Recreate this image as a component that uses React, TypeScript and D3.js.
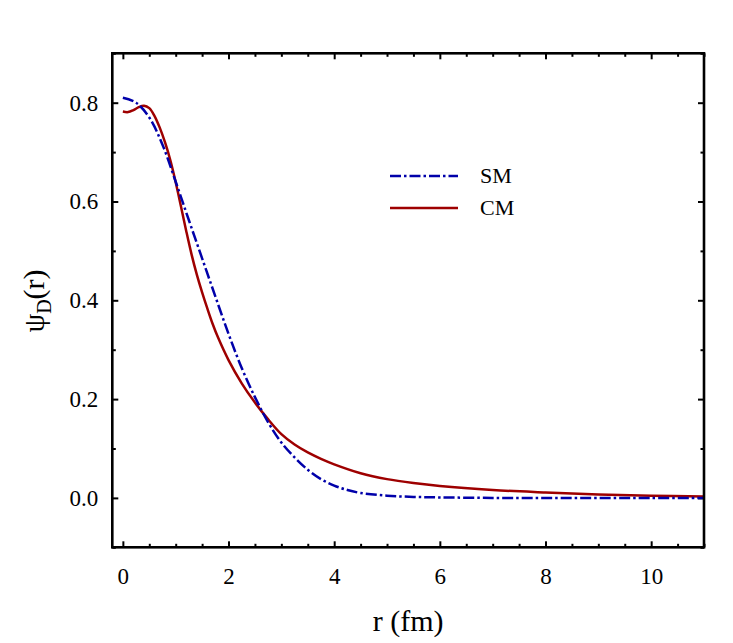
import React from 'react';
import { select, scaleLinear, axisBottom, axisTop, axisLeft, axisRight, line, curveCatmullRom, range, format } from 'd3';

// r (fm) sample points and wavefunction values
const smR = [0, 0.25, 0.5, 0.75, 1.0, 1.25, 1.5, 1.75, 2.0, 2.25, 2.5, 2.75, 3.0, 3.25, 3.5, 3.75, 4.0, 4.25, 4.5, 5.0, 5.5, 6.0, 7.0, 8.0, 9.0, 10.0, 11.0];
const smPsi = [0.81, 0.80, 0.77, 0.715, 0.64, 0.562, 0.485, 0.408, 0.332, 0.263, 0.204, 0.153, 0.112, 0.082, 0.057, 0.038, 0.025, 0.016, 0.010, 0.0045, 0.002, 0.001, 0, 0, 0, 0, 0];

const cmR = [0, 0.1, 0.2, 0.3, 0.4, 0.5, 0.6, 0.7, 0.8, 0.9, 1.0, 1.1, 1.2, 1.3, 1.4, 1.5, 1.6, 1.7, 1.8, 2.0, 2.25, 2.5, 2.75, 3.0, 3.25, 3.5, 3.75, 4.0, 4.5, 5.0, 5.5, 6.0, 7.0, 8.0, 9.0, 10.0, 11.0];
const cmPsi = [0.782, 0.781, 0.785, 0.791, 0.794, 0.789, 0.773, 0.749, 0.719, 0.683, 0.639, 0.59, 0.54, 0.493, 0.452, 0.416, 0.383, 0.352, 0.325, 0.279, 0.232, 0.193, 0.159, 0.129, 0.108, 0.092, 0.079, 0.068, 0.050, 0.038, 0.030, 0.024, 0.016, 0.011, 0.0068, 0.0045, 0.003];

const xTicks = [0, 2, 4, 6, 8, 10];
const yTicks = [0.0, 0.2, 0.4, 0.6, 0.8];
const seriesNames = ['SM', 'CM'];

interface Pt { r: number; v: number; }

const App: React.FC = () => {
  const svgRef = React.useRef<SVGSVGElement>(null);

  const dims = { width: 733, height: 643, left: 112.3, right: 704, top: 53.3, bottom: 547.3 };

  React.useEffect(() => {
    const svg = select(svgRef.current);
    svg.selectAll('*').remove();

    const x = scaleLinear().domain([-0.2, 11]).range([dims.left, dims.right]);
    const y = scaleLinear().domain([-0.1, 0.9]).range([dims.bottom, dims.top]);

    const font = '"Liberation Serif", "Times New Roman", serif';
    const xMinor = range(0, 11.01, 0.5).filter(v => !xTicks.includes(v));
    const yMinor = range(-0.1, 0.91, 0.1).map(v => +v.toFixed(1)).filter(v => !yTicks.includes(v));

    const styleAxis = (g: any) => {
      g.select('.domain').remove();
      g.selectAll('line').attr('stroke', '#000').attr('stroke-width', 2);
      g.selectAll('text').attr('font-family', font).attr('font-size', 23).attr('fill', '#000');
    };

    // bottom
    svg.append('g').attr('transform', `translate(0,${dims.bottom})`)
      .call(axisBottom(x).tickValues(xTicks).tickSize(-6).tickPadding(20).tickFormat(format('d')))
      .call(styleAxis);
    svg.append('g').attr('transform', `translate(0,${dims.bottom})`)
      .call(axisBottom(x).tickValues(xMinor).tickSize(-3.5).tickFormat(() => ''))
      .call(styleAxis);
    // top
    svg.append('g').attr('transform', `translate(0,${dims.top})`)
      .call(axisTop(x).tickValues(xTicks).tickSize(-6).tickFormat(() => ''))
      .call(styleAxis);
    svg.append('g').attr('transform', `translate(0,${dims.top})`)
      .call(axisTop(x).tickValues(xMinor).tickSize(-3.5).tickFormat(() => ''))
      .call(styleAxis);
    // left
    svg.append('g').attr('transform', `translate(${dims.left},0)`)
      .call(axisLeft(y).tickValues(yTicks).tickSize(-6).tickPadding(14).tickFormat(format('.1f')))
      .call(styleAxis);
    svg.append('g').attr('transform', `translate(${dims.left},0)`)
      .call(axisLeft(y).tickValues(yMinor).tickSize(-3.5).tickFormat(() => ''))
      .call(styleAxis);
    // right
    svg.append('g').attr('transform', `translate(${dims.right},0)`)
      .call(axisRight(y).tickValues(yTicks).tickSize(-6).tickFormat(() => ''))
      .call(styleAxis);
    svg.append('g').attr('transform', `translate(${dims.right},0)`)
      .call(axisRight(y).tickValues(yMinor).tickSize(-3.5).tickFormat(() => ''))
      .call(styleAxis);

    const sm: Pt[] = smR.map((r, i) => ({ r, v: smPsi[i] }));
    const cm: Pt[] = cmR.map((r, i) => ({ r, v: cmPsi[i] }));
    const path = line<Pt>().x(d => x(d.r)).y(d => y(d.v)).curve(curveCatmullRom.alpha(0.5));

    const plot = svg.append('g');
    plot.append('path').attr('d', path(cm)).attr('fill', 'none')
      .attr('stroke', '#9e0000').attr('stroke-width', 2.5);
    plot.append('path').attr('d', path(sm)).attr('fill', 'none')
      .attr('stroke', '#0000aa').attr('stroke-width', 2.5)
      .attr('stroke-dasharray', '11,3,2.5,3');

    // frame
    svg.append('rect')
      .attr('x', dims.left).attr('y', dims.top)
      .attr('width', dims.right - dims.left).attr('height', dims.bottom - dims.top)
      .attr('fill', 'none').attr('stroke', '#000').attr('stroke-width', 2.6);

    // legend
    const legend = [
      { name: seriesNames[0], color: '#0000aa', dash: '11,3,2.5,3', y: 176 },
      { name: seriesNames[1], color: '#9e0000', dash: null, y: 208 },
    ];
    legend.forEach(l => {
      svg.append('line').attr('x1', 390).attr('x2', 458).attr('y1', l.y).attr('y2', l.y)
        .attr('stroke', l.color).attr('stroke-width', 2.5)
        .attr('stroke-dasharray', l.dash);
      svg.append('text').attr('x', 480).attr('y', l.y + 7)
        .attr('font-family', font).attr('font-size', 22).text(l.name);
    });

    // axis titles
    svg.append('text').attr('x', (dims.left + dims.right) / 2).attr('y', 631)
      .attr('text-anchor', 'middle').attr('font-family', font).attr('font-size', 30)
      .text('r (fm)');

    const yl = svg.append('text')
      .attr('transform', `translate(44,301) rotate(-90)`)
      .attr('text-anchor', 'middle').attr('font-family', font).attr('font-size', 30);
    yl.append('tspan').text('ψ');
    yl.append('tspan').attr('font-size', 20).attr('dy', 7).text('D');
    yl.append('tspan').attr('dy', -7).text('(r)');
  }, []);

  return (
    <svg ref={svgRef} width={dims.width} height={dims.height}
      style={{ position: 'absolute', left: 0, top: 0, background: '#fff' }} />
  );
};

export default App;
